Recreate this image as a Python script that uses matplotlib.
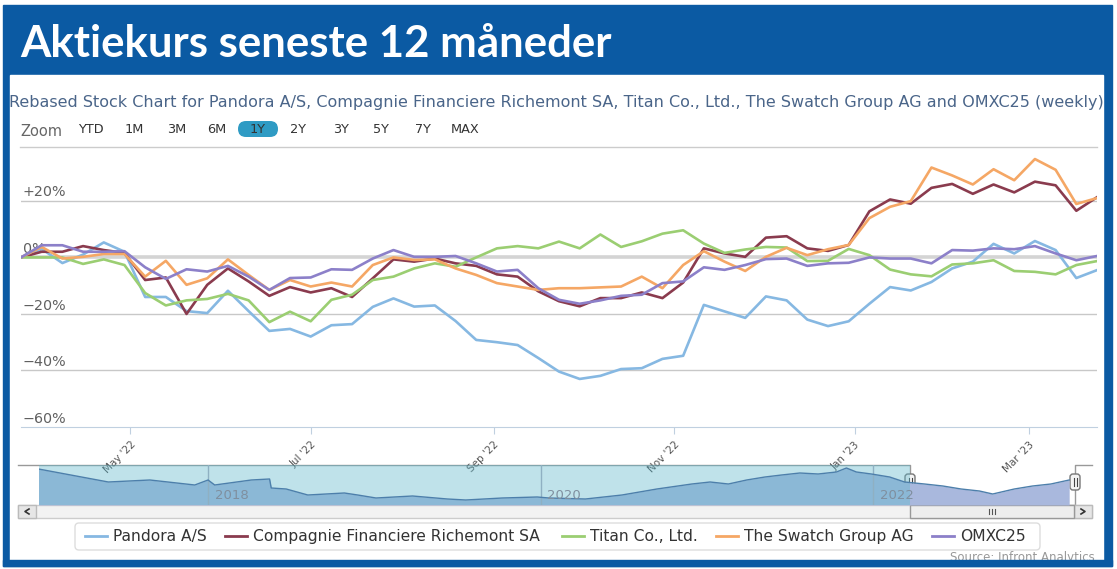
"""Aktiekurs seneste 12 maaneder - rebased weekly stock chart."""
import pandas as pd
import matplotlib
matplotlib.use("Agg")
import matplotlib.pyplot as plt
from matplotlib.patches import Rectangle, FancyBboxPatch

W, H = 1117, 569

# weekly closes rebased to 0% at the first week (in %)
start_date = "2022-03-25"
pandora = [0, 3, -2, 1, 5.3, 2, -14, -14, -19, -19.7, -11.8, -19, -26, -25.3, -28, -24,
           -23.6, -17.5, -14.5, -17.4, -17, -22.5, -29.2, -30, -31, -35.6, -40.4, -43,
           -41.9, -39.5, -39.2, -35.9, -34.8, -16.8, -19.1, -21.4, -13.8, -15.2, -22,
           -24.3, -22.6, -16.4, -10.5, -11.7, -8.7, -3.9, -1.5, 4.8, 1.4, 5.8, 2.6, -7.3, -4.5]
richemont = [0, 2, 2, 4, 2.6, 1.6, -8, -7.1, -20, -9.7, -3.9, -8.5, -13.6, -10.5, -12.4,
             -10.9, -14, -7.4, -0.7, -1.5, -0.4, -2.1, -3, -6, -6.8, -12, -15.5, -17.3,
             -14.4, -14.4, -12.4, -14.4, -8.9, 3.2, 1.4, 0.2, 7, 7.5, 3.2, 2.3, 4.4, 16.3,
             20.5, 19, 24.6, 26, 22.5, 25.8, 23, 26.8, 25.5, 16.5, 21.3]
titan = [0, 0, 0, -2.3, -0.7, -2.7, -12.6, -17, -15.2, -14.7, -12.9, -15.2, -22.9, -19.2,
         -22.6, -15, -13.2, -8, -6.8, -3.9, -2.1, -3.3, 0, 3.2, 4, 3.2, 5.6, 3.2, 8.1, 3.7,
         5.7, 8.4, 9.6, 4.9, 1.6, 2.8, 3.7, 3.5, -1.3, -1.2, 3, 0.8, -4.3, -6, -6.7, -2.5,
         -2.1, -1, -4.8, -5.1, -6, -2.7, -1.3]
swatch = [0, 3.7, -0.4, 0.2, 1.2, 1.2, -6.8, -1.2, -9.7, -7.4, -0.7, -6.2, -11.5, -8,
          -10.3, -8.9, -10.3, -2.7, 0, -0.9, -0.7, -3.9, -6.2, -9.1, -10.3, -11.5, -10.9,
          -10.9, -10.6, -10.3, -6.8, -10.9, -2.7, 2.2, -1.5, -4.8, 0.2, 3.4, 0.8, 2.9, 4.4,
          13.9, 17.9, 19.9, 31.8, 29, 25.8, 31.2, 27.3, 34.8, 31, 18.9, 21]
omxc25 = [0, 4.3, 4.3, 2, 2, 2.2, -3.5, -7.6, -4.2, -5, -3, -6.8, -11.5, -7.3, -7.1, -4.2,
          -4.4, -0.4, 2.6, 0.2, 0.2, 0.5, -2.1, -5, -4.4, -10.9, -15, -16.4, -15.2, -13.6,
          -13.2, -9.1, -8.5, -3.5, -4.4, -2.7, -0.6, -0.4, -3, -2.1, -1.9, 0, -0.4, -0.4,
          -2.1, 2.6, 2.4, 3.2, 2.9, 4, 1.4, -1, 0.5]

series_names = ["Pandora A/S", "Compagnie Financiere Richemont SA", "Titan Co., Ltd.",
                "The Swatch Group AG", "OMXC25"]
series_colors = ["#86b8e2", "#8a3b4e", "#9bce72", "#f5a765", "#8c80c9"]

y_ticks = [20, 0, -20, -40, -60]
y_labels = ["+20%", "0%", "\u221220%", "\u221240%", "\u221260%"]
x_ticks = ["2022-05-01", "2022-07-01", "2022-09-01", "2022-11-01", "2023-01-01", "2023-03-01"]
x_labels = ["May '22", "Jul '22", "Sep '22", "Nov '22", "Jan '23", "Mar '23"]

zoom_buttons = ["YTD", "1M", "3M", "6M", "1Y", "2Y", "3Y", "5Y", "7Y", "MAX"]

# long history shown in the navigator (year, level)
nav_years = [2016.98, 2017.40, 2017.65, 2017.92, 2018.00, 2018.04, 2018.26, 2018.37,
             2018.38, 2018.47, 2018.60, 2018.82, 2018.90, 2019.01, 2019.12, 2019.23,
             2019.44, 2019.55, 2019.66, 2019.77, 2019.98, 2020.05, 2020.27, 2020.49,
             2020.70, 2020.91, 2021.02, 2021.13, 2021.24, 2021.35, 2021.45, 2021.56,
             2021.67, 2021.78, 2021.84, 2021.90, 2021.99, 2022.10, 2022.19, 2022.31,
             2022.42, 2022.53, 2022.64, 2022.72, 2022.85, 2022.96, 2023.07, 2023.18]
nav_level = [36, 23, 25, 20, 25, 20, 25, 26, 17, 16, 10, 12, 10, 7, 8, 9, 6, 5, 6, 7, 8,
             7, 6, 10, 16, 21, 23, 21, 25, 28, 30, 32, 31, 33, 37, 33, 31, 28, 23, 21, 19,
             16, 14, 11, 16, 19, 21, 25]
nav_year_labels = [2018, 2020, 2022]


def px_axes(fig, x0, y0, x1, y1, **kw):
    return fig.add_axes([x0 / W, 1 - y1 / H, (x1 - x0) / W, (y1 - y0) / H], **kw)


def main():
    fig = plt.figure(figsize=(W / 100, H / 100), dpi=100)
    font = "DejaVu Sans"

    # overlay in pixel coordinates for frame, header, buttons and legend
    ov = fig.add_axes([0, 0, 1, 1], zorder=0)
    ov.set_xlim(0, W)
    ov.set_ylim(H, 0)
    ov.axis("off")
    blue = "#0b5aa3"
    ov.add_patch(Rectangle((3, 5), 1109, 561, color=blue, zorder=0))
    ov.add_patch(Rectangle((10, 75), 1093, 485, color="white", zorder=1))
    ov.text(20, 44, "Aktiekurs seneste 12 m\u00e5neder", color="white", fontsize=31.5,
            fontweight="bold", family="Lato", va="center", ha="left", zorder=2)

    ov.text(556, 102, "Rebased Stock Chart for Pandora A/S, Compagnie Financiere Richemont SA, "
            "Titan Co., Ltd., The Swatch Group AG and OMXC25 (weekly)",
            color="#4a6589", fontsize=11.5, family=font, ha="center", va="center", zorder=2)

    ov.text(20, 131, "Zoom", color="#666666", fontsize=10.5, family=font, va="center", zorder=2)
    btn_x = [91, 134, 177, 217, 258, 298, 341, 381, 423, 465]
    for lab, bx in zip(zoom_buttons, btn_x):
        if lab == "1Y":
            ov.add_patch(FancyBboxPatch((bx - 20, 121), 40, 16,
                                        boxstyle="round,pad=0,rounding_size=8",
                                        fc="#2f9bc4", ec="none", zorder=2))
        ov.text(bx, 129, lab, color="#333333", fontsize=9.3, family=font,
                ha="center", va="center", zorder=3)
    ov.plot([20, 1097], [147, 147], color="#cccccc", lw=1, zorder=2)

    # main chart
    ax = px_axes(fig, 21, 150, 1097, 427, zorder=2)
    ax.patch.set_alpha(0)
    dates = pd.date_range(start_date, periods=len(pandora), freq="7D")
    for v in y_ticks[:-1]:
        if v == 0:
            ax.axhline(v, color="#d4d4d4", lw=2.6, zorder=0)
        else:
            ax.axhline(v, color="#c8c8c8", lw=1, zorder=0)
    for vals, name, col in zip([pandora, richemont, titan, swatch, omxc25],
                               series_names, series_colors):
        ax.plot(dates, vals, color=col, lw=1.9, label=name, zorder=2,
                solid_joinstyle="round")
    ax.set_xlim(dates[0], dates[-1])
    ax.set_ylim(-60, 38)
    for s in ["top", "left", "right"]:
        ax.spines[s].set_visible(False)
    ax.spines["bottom"].set_color("#c0d0e0")
    ax.set_yticks([])
    ax.set_xticks(pd.to_datetime(x_ticks))
    ax.set_xticklabels(x_labels, rotation=45, ha="right", rotation_mode="anchor",
                       fontsize=7.5, color="#555555", family=font)
    ax.tick_params(axis="x", length=5, color="#c0d0e0", pad=4)
    for v, lab in zip(y_ticks, y_labels):
        ax.text(0.0015, v + 0.5, lab, transform=ax.get_yaxis_transform(),
                fontsize=10.3, color="#606060", family=font, va="bottom", ha="left", zorder=1)

    # navigator
    nav = px_axes(fig, 39, 465, 1075, 505, zorder=2)
    nav.set_xlim(2016.983, 2023.215)
    nav.set_ylim(0, 40)
    nav.axis("off")
    nav.fill_between(nav_years, nav_level, 0, color="#a9b8dd", lw=0, zorder=1)
    nav.plot(nav_years, nav_level, color="#4d7fab", lw=1, zorder=3)
    nav.axvspan(2016.983, 2022.223, color="#5fb8cc", alpha=0.4, lw=0, zorder=2)
    for yr in nav_year_labels:
        nav.axvline(yr, color="#8fb0c2", lw=1, zorder=2)
        nav.text(yr + 0.04, 3, str(yr), color="#7f8f9f", fontsize=9.5, family=font,
                 va="bottom", ha="left", zorder=4)

    # navigator outline, handles and scrollbar
    ov.plot([18, 910, 910, 1075, 1075, 1092], [465, 465, 505, 505, 465, 465],
            color="#999999", lw=1, zorder=3)
    ov.add_patch(Rectangle((18, 505), 1074, 13, fc="#f2f2f2", ec="#cccccc", lw=1, zorder=3))
    ov.add_patch(Rectangle((18, 505), 18, 13, fc="#e6e6e6", ec="#bbbbbb", lw=1, zorder=4))
    ov.add_patch(Rectangle((1074, 505), 18, 13, fc="#e6e6e6", ec="#bbbbbb", lw=1, zorder=4))
    ov.plot([29, 25, 29], [509, 511.5, 514], color="#333333", lw=1.2, zorder=5)
    ov.plot([1081, 1085, 1081], [509, 511.5, 514], color="#333333", lw=1.2, zorder=5)
    ov.add_patch(Rectangle((910, 505), 164, 13, fc="#eeeeee", ec="#999999", lw=1, zorder=4))
    for dx in (-3, 0, 3):
        ov.plot([992 + dx, 992 + dx], [509, 514], color="#555555", lw=0.8, zorder=5)
    for hx in (910, 1075):
        ov.add_patch(FancyBboxPatch((hx - 5, 474), 10, 16, boxstyle="round,pad=0,rounding_size=3",
                                    fc="#f4f4f4", ec="#777777", lw=1, zorder=6))
        for dx in (-1.5, 1.5):
            ov.plot([hx + dx, hx + dx], [478, 486], color="#444444", lw=0.8, zorder=7)

    # legend
    ov.add_patch(FancyBboxPatch((75, 523), 965, 27, boxstyle="round,pad=0,rounding_size=4",
                                fc="white", ec="#dddddd", lw=1, zorder=2))
    leg_x = [85, 225, 562, 716, 932]
    for lx, name, col in zip(leg_x, series_names, series_colors):
        ov.plot([lx, lx + 22], [536, 536], color=col, lw=2, zorder=3)
        ov.text(lx + 28, 536.5, name, color="#333333", fontsize=11.2, family=font,
                va="center", ha="left", zorder=3)

    ov.text(1095, 557, "Source: Infront Analytics", color="#999999", fontsize=8.5,
            family=font, ha="right", va="center", zorder=2)
    ov.add_patch(Rectangle((3, 560), 1109, 6, color=blue, zorder=8))

    fig.savefig("out.png", dpi=100)


if __name__ == "__main__":
    main()
